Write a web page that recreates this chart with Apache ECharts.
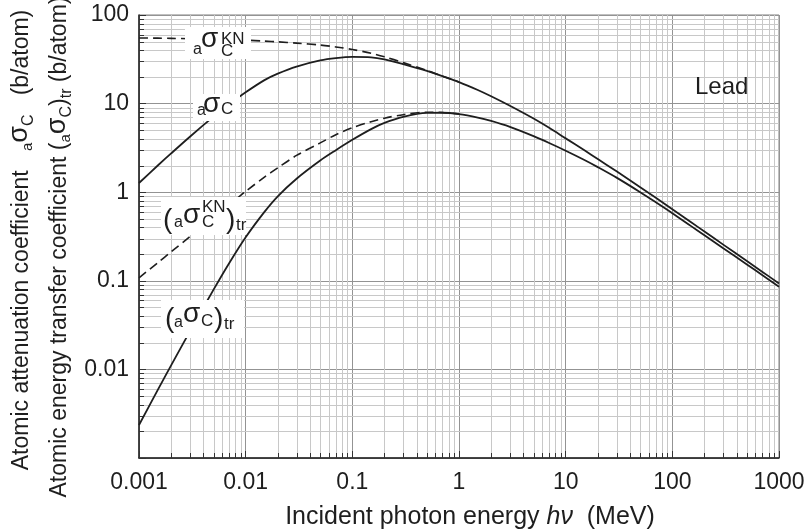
<!DOCTYPE html>
<html>
<head>
<meta charset="utf-8">
<script src="https://cdn.jsdelivr.net/npm/echarts@6.0.0/dist/echarts.min.js"></script>
<style>
  html, body { margin: 0; padding: 0; background: #fff; }
  #chart { width: 811px; height: 529px; }
</style>
</head>
<body>
<div id="chart"></div>
<script>
// incident photon energy hv (MeV)
var energy = [0.001, 0.0015, 0.002, 0.003, 0.005, 0.007, 0.01, 0.015, 0.02, 0.03, 0.05, 0.07,
  0.1, 0.15, 0.2, 0.3, 0.5, 0.7, 1, 1.5, 2, 3, 5, 7, 10, 15, 20, 30, 50, 70,
  100, 150, 200, 300, 500, 700, 1000];
// aσC  (b/atom)
var sigmaC = [1.27, 2.0, 2.74, 4.23, 7.12, 9.8, 13.4, 18.4, 21.8, 26.2, 30.7, 32.6,
  33.6, 33.3, 31.6, 27.9, 23.4, 20.4, 17.5, 14.25, 12.1, 9.45, 6.78, 5.33, 4.05, 2.97, 2.37, 1.72, 1.14, 0.867,
  0.643, 0.458, 0.36, 0.256, 0.167, 0.126, 0.0935];
// (aσC)tr  (b/atom)
var sigmaCtr = [0.00236, 0.00587, 0.0111, 0.0269, 0.0795, 0.158, 0.31, 0.6, 0.9, 1.42, 2.28, 2.98,
  3.9, 5.15, 6.05, 7.08, 7.85, 7.88, 7.6, 6.95, 6.37, 5.46, 4.29, 3.59, 2.94, 2.31, 1.92, 1.46, 1.0, 0.77,
  0.58, 0.414, 0.326, 0.233, 0.153, 0.1155, 0.0858];
// Klein-Nishina curves, dashed, only until they join the curves above
var energyKN = [0.001, 0.0015, 0.002, 0.003, 0.005, 0.007, 0.01, 0.015, 0.02, 0.03, 0.05, 0.07,
  0.1, 0.15, 0.2, 0.3, 0.5, 0.7, 1];
var sigmaKN = [55, 54.8, 54.5, 54.0, 53.3, 52.7, 52.0, 50.8, 49.8, 48.2, 45.8, 43.6,
  40.8, 37.0, 33.8, 29.0, 23.7, 20.4, 17.5];
var sigmaKNtr = [0.108, 0.16, 0.212, 0.315, 0.52, 0.72, 1.02, 1.48, 1.88, 2.6, 3.6, 4.45,
  5.35, 6.25, 6.85, 7.5, 8.0, 7.95, 7.65];

// axes
var xMin = 0.001, xMax = 1000, yMin = 0.001, yMax = 100;
var xDecades = [0.001, 0.01, 0.1, 1, 10, 100];
var yDecades = [0.001, 0.01, 0.1, 1, 10];
var minorSteps = [2, 3, 4, 5, 6, 7, 8, 9];

var xMinor = [], yMinor = [];
xDecades.forEach(function (d) {
  minorSteps.forEach(function (m) { xMinor.push([+(d * m).toPrecision(3), yMin]); });
});
yDecades.forEach(function (d) {
  minorSteps.forEach(function (m) { yMinor.push([xMin, +(d * m).toPrecision(3)]); });
});

function pairs(xs, ys) {
  return xs.map(function (x, i) { return [x, ys[i]]; });
}

var minorColor = '#c8c8c8';
var majorColor = '#939393';
var inkColor = '#1e1e1e';
var font = '"Liberation Sans", Arial, sans-serif';

function crisp(v) { return Math.round(v) + 0.5; }

function vGrid(params, api) {
  var bot = api.coord([api.value(0), yMin]);
  var top = api.coord([api.value(0), yMax]);
  var x = crisp(bot[0]);
  return { type: 'group', children: [
    { type: 'line', shape: { x1: x, y1: top[1], x2: x, y2: bot[1] }, style: { stroke: minorColor, lineWidth: 1 } },
    { type: 'line', shape: { x1: x, y1: bot[1], x2: x, y2: bot[1] - 5 }, style: { stroke: '#333', lineWidth: 1 } }
  ]};
}
function hGrid(params, api) {
  var left = api.coord([xMin, api.value(1)]);
  var right = api.coord([xMax, api.value(1)]);
  var y = crisp(left[1]);
  return { type: 'group', children: [
    { type: 'line', shape: { x1: left[0], y1: y, x2: right[0], y2: y }, style: { stroke: minorColor, lineWidth: 1 } },
    { type: 'line', shape: { x1: left[0], y1: y, x2: left[0] + 5, y2: y }, style: { stroke: '#333', lineWidth: 1 } }
  ]};
}

// text pieces: [text, x, middleY, size]
function pieces(list) {
  return list.map(function (p) {
    return { type: 'text', z: 101, x: p[1], y: p[2], style: {
      text: p[0], fontSize: p[3], fontFamily: font, fill: inkColor,
      align: 'left', verticalAlign: 'middle' } };
  });
}
function labelGroup(box, list) {
  return { type: 'group', children: [
    { type: 'rect', z: 100, shape: { x: box[0], y: box[1], width: box[2], height: box[3] }, style: { fill: '#fff' } }
  ].concat(pieces(list)) };
}

var chart = echarts.init(document.getElementById('chart'), null, { renderer: 'canvas' });

chart.setOption({
  animation: false,
  backgroundColor: '#fff',
  grid: { left: 139, top: 15, right: 32, bottom: 71, show: true, borderColor: '#808080', borderWidth: 1, backgroundColor: '#fff' },
  xAxis: {
    type: 'log', logBase: 10, min: xMin, max: xMax,
    axisLine: { lineStyle: { color: inkColor, width: 1.5 } },
    axisTick: { inside: true, length: 7, lineStyle: { color: '#333' } },
    axisLabel: { fontSize: 23, fontFamily: font, color: inkColor, margin: 13,
      formatter: function (v) { return String(+Number(v).toPrecision(2)); } },
    splitLine: { show: true, lineStyle: { color: majorColor, width: 1 } }
  },
  yAxis: {
    type: 'log', logBase: 10, min: yMin, max: yMax,
    axisLine: { lineStyle: { color: inkColor, width: 1.5 } },
    axisTick: { inside: true, length: 7, lineStyle: { color: '#333' } },
    axisLabel: { fontSize: 23, fontFamily: font, color: inkColor, margin: 10,
      formatter: function (v) { return v < 0.002 ? '' : String(+Number(v).toPrecision(2)); } },
    splitLine: { show: true, lineStyle: { color: majorColor, width: 1 } }
  },
  series: [
    { type: 'custom', silent: true, z: 1, renderItem: vGrid, data: xMinor, encode: { x: 0, y: 1 } },
    { type: 'custom', silent: true, z: 1, renderItem: hGrid, data: yMinor, encode: { x: 0, y: 1 } },
    { name: 'aσC KN', type: 'line', z: 3, showSymbol: false, smooth: 0.3, data: pairs(energyKN, sigmaKN),
      lineStyle: { color: inkColor, width: 1.6, type: [9, 5] } },
    { name: '(aσC KN)tr', type: 'line', z: 3, showSymbol: false, smooth: 0.3, data: pairs(energyKN, sigmaKNtr),
      lineStyle: { color: inkColor, width: 1.6, type: [9, 5] } },
    { name: 'aσC', type: 'line', z: 4, showSymbol: false, smooth: 0.3, data: pairs(energy, sigmaC),
      lineStyle: { color: inkColor, width: 1.8 } },
    { name: '(aσC)tr', type: 'line', z: 4, showSymbol: false, smooth: 0.3, data: pairs(energy, sigmaCtr),
      lineStyle: { color: inkColor, width: 1.8 } }
  ],
  graphic: [
    labelGroup([185, 27, 66, 32], [
      ['a', 193, 50, 16], ['σ', 201, 39, 28], ['C', 221, 51, 17], ['KN', 221, 39, 17]
    ]),
    labelGroup([193, 94, 47, 27], [
      ['a', 197, 111, 16], ['σ', 203, 104, 28], ['C', 221, 109, 17]
    ]),
    labelGroup([161, 197, 85, 38], [
      ['(', 163, 220, 28], ['a', 174, 223, 16], ['σ', 183, 215, 28], ['KN', 202, 207, 17],
      ['C', 202, 222, 17], [')', 226, 220, 28], ['tr', 236, 225, 17]
    ]),
    labelGroup([161, 300, 83, 38], [
      ['(', 165, 319, 28], ['a', 174, 323, 16], ['σ', 183, 314, 28], ['C', 201, 321, 17],
      [')', 214, 319, 28], ['tr', 224, 324, 17]
    ]),
    { type: 'text', z: 100, x: 695, y: 87, style: { text: 'Lead', fontSize: 24, fontFamily: font, fill: inkColor,
      align: 'left', verticalAlign: 'middle' } },
    { type: 'text', z: 100, x: 470, y: 517, style: {
      text: 'Incident photon energy {i|hν}  (MeV)', fontSize: 25, fontFamily: font, fill: inkColor,
      align: 'center', verticalAlign: 'middle',
      rich: { i: { fontSize: 25, fontFamily: font, fontStyle: 'italic', fill: inkColor } } } },
    { type: 'text', z: 100, x: 22, y: 240, rotation: Math.PI / 2, style: {
      text: 'Atomic attenuation coefficient   {a|a}{s|σ}{c|C}   (b/atom)', fontSize: 23, fontFamily: font, fill: inkColor,
      align: 'center', verticalAlign: 'middle',
      rich: {
        a: { fontSize: 15, fontFamily: font, fill: inkColor, padding: [12, 0, 0, 0] },
        s: { fontSize: 27, fontFamily: font, fill: inkColor, padding: [0, 0, 4, 0] },
        c: { fontSize: 16, fontFamily: font, fill: inkColor, padding: [13, 0, 0, 0] }
      } } },
    { type: 'text', z: 100, x: 60, y: 247, rotation: Math.PI / 2, style: {
      text: 'Atomic energy transfer coefficient ({a|a}{s|σ}{c|C}){t|tr} (b/atom)', fontSize: 23, fontFamily: font, fill: inkColor,
      align: 'center', verticalAlign: 'middle',
      rich: {
        a: { fontSize: 15, fontFamily: font, fill: inkColor, padding: [12, 0, 0, 0] },
        s: { fontSize: 27, fontFamily: font, fill: inkColor, padding: [0, 0, 4, 0] },
        c: { fontSize: 16, fontFamily: font, fill: inkColor, padding: [13, 0, 0, 0] },
        t: { fontSize: 16, fontFamily: font, fill: inkColor, padding: [13, 0, 0, 0] }
      } } }
  ]
});
</script>
</body>
</html>
